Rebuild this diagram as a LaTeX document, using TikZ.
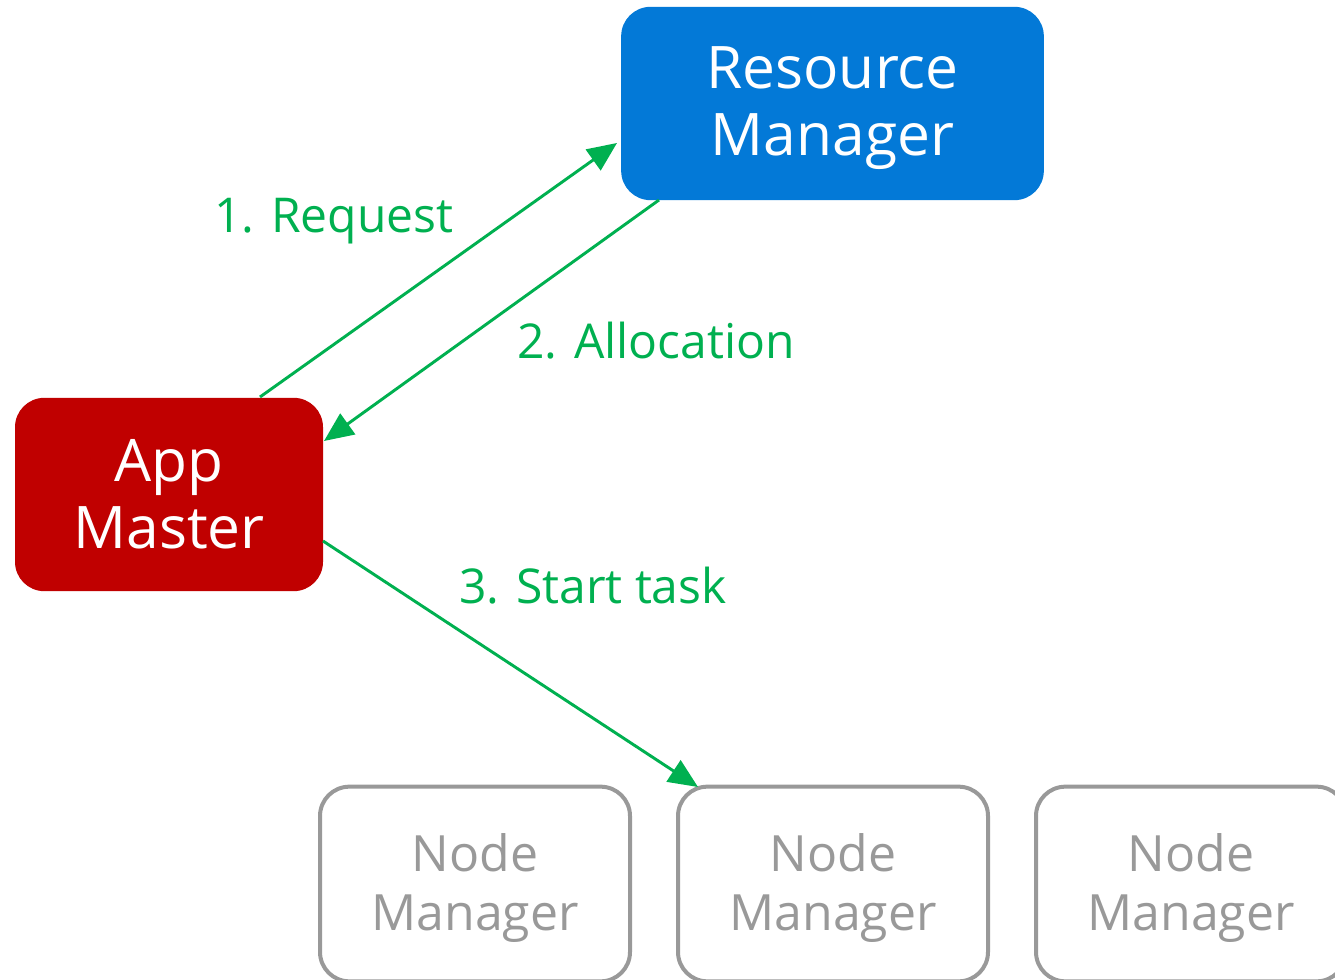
\documentclass[tikz,border=0pt]{standalone}
\usepackage{fontspec}
\setmainfont{Open Sans}
\usetikzlibrary{arrows.meta}
\definecolor{rmblue}{HTML}{0379D7}
\definecolor{amred}{HTML}{C00000}
\definecolor{arrgreen}{HTML}{00B050}
\definecolor{nmgray}{HTML}{999999}
\newcommand{\lowr}[2]{\raisebox{-#1}[\height][\depth]{#2}}
\tikzset{
  mainbox/.style={rounded corners=22pt, text=white, align=center,
    font=\fontsize{44}{50}\selectfont, inner sep=0pt},
  nmbox/.style={draw=nmgray, line width=3pt, rounded corners=22pt, text=nmgray,
    minimum width=232.5pt, minimum height=146pt, align=center,
    font=\fontsize{37.5}{44}\selectfont, inner sep=0pt},
  flow/.style={draw=arrgreen, line width=2.2pt, -{Triangle[length=22pt,width=19pt]}},
  flowlabel/.style={text=arrgreen, font=\fontsize{36}{40}\selectfont, inner sep=0pt}
}
\begin{document}
\begin{tikzpicture}[x=0.75pt,y=-0.75pt]
\useasboundingbox (0,0) rectangle (1335,980);
\node[mainbox, fill=amred, minimum width=231pt, minimum height=145pt] (am) at (169,494.5) {App\\Master};
\node[mainbox, fill=rmblue, minimum width=317pt, minimum height=145pt] (rm) at (832.5,103.5) {\lowr{3.5pt}{Resource}\\\lowr{3.5pt}{Manager}};
\node[nmbox] (nm1) at (475,884) {\lowr{3pt}{Node}\\\lowr{3pt}{Manager}};
\node[nmbox] (nm2) at (833,884) {\lowr{3pt}{Node}\\\lowr{3pt}{Manager}};
\node[nmbox] (nm3) at (1191,884) {\lowr{3pt}{Node}\\\lowr{3pt}{Manager}};
\coordinate (a1s) at (260,397);
\coordinate (a1e) at (617,143);
\coordinate (a2s) at (659,200);
\coordinate (a2e) at (324,441);
\coordinate (a3s) at (323,541);
\coordinate (a3e) at (698,787);
\draw[flow] (a1s) -- (a1e);
\draw[flow] (a2s) -- (a2e);
\draw[flow] (a3s) -- (a3e);
\node[flowlabel] (l1) at (334,221) {1. Request};
\node[flowlabel] (l2) at (656,341) {2. Allocation};
\node[flowlabel] (l3) at (593,586) {3. Start task};
\end{tikzpicture}
\end{document}
